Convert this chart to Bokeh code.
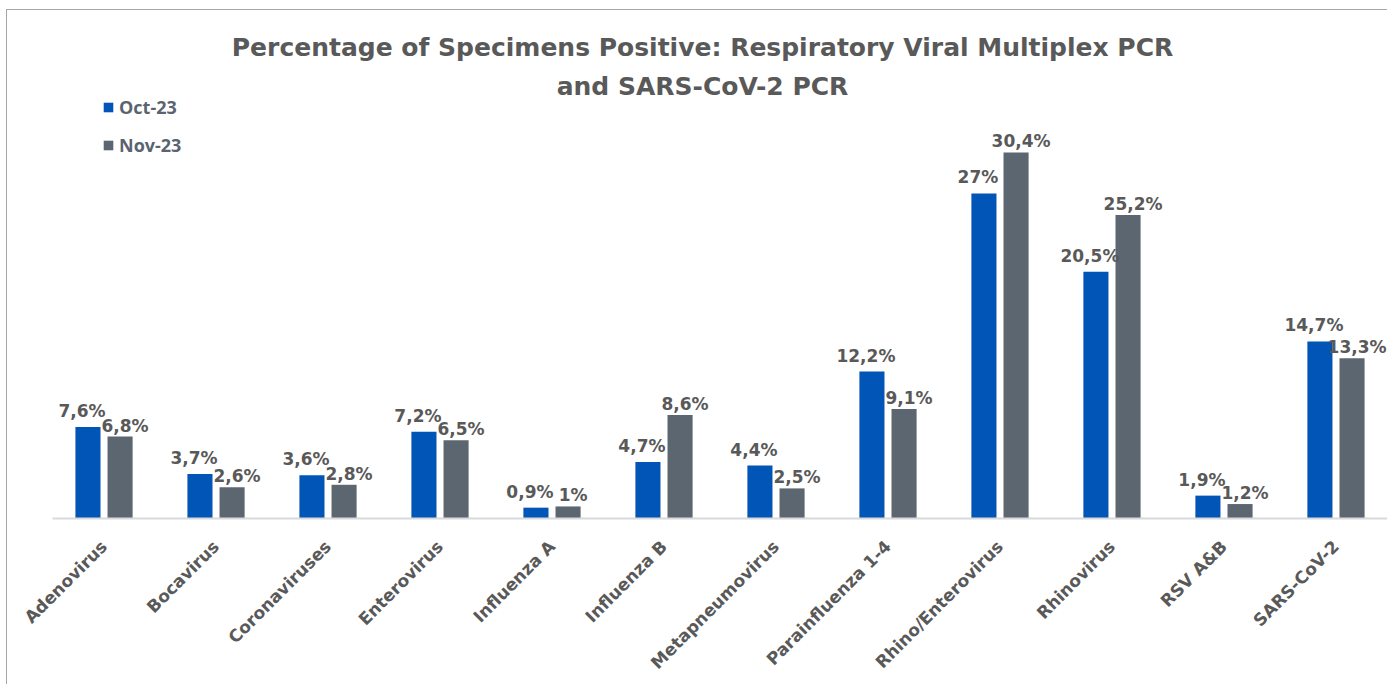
import math
from bokeh.plotting import figure
from bokeh.models import (ColumnDataSource, FactorRange, Label, Legend, LegendItem,
                          InlineStyleSheet)
from bokeh.transform import dodge
from bokeh.core.properties import value
from bokeh.embed import file_html
from bokeh.resources import INLINE

categories = ["Adenovirus", "Bocavirus", "Coronaviruses", "Enterovirus", "Influenza A",
              "Influenza B", "Metapneumovirus", "Parainfluenza 1-4", "Rhino/Enterovirus",
              "Rhinovirus", "RSV A&B", "SARS-CoV-2"]
oct_23 = [7.6, 3.7, 3.6, 7.2, 0.9, 4.7, 4.4, 12.2, 27.0, 20.5, 1.9, 14.7]
nov_23 = [6.8, 2.6, 2.8, 6.5, 1.0, 8.6, 2.5, 9.1, 30.4, 25.2, 1.2, 13.3]
series_names = ["Oct-23", "Nov-23"]
title_lines = ["Percentage of Specimens Positive: Respiratory Viral Multiplex PCR",
               "and SARS-CoV-2 PCR"]

BLUE = "#0055B7"
GRAY = "#5C6670"
TEXT = "#595959"


def fmt(v):
    if abs(v - round(v)) < 1e-9:
        return "%d%%" % round(v)
    return ("%.1f%%" % v).replace(".", ",")


src = ColumnDataSource(dict(
    cat=categories, oct=oct_23, nov=nov_23,
    oct_lbl=[fmt(v) for v in oct_23], nov_lbl=[fmt(v) for v in nov_23],
))

border_css = InlineStyleSheet(css="""
:host { position: relative; }
:host::after { content: ""; position: absolute; left: 6px; top: 9px; right: 0; bottom: 0;
  border-top: 1px solid #A6A6A6; border-left: 1px solid #A6A6A6; pointer-events: none; }
""")

p = figure(
    x_range=FactorRange(factors=categories, range_padding=-0.04, range_padding_units="absolute"),
    y_range=(0, 43.02),
    width=1387, height=684,
    min_border_left=52, min_border_right=0, min_border_top=0, min_border_bottom=166,
    output_backend="svg", toolbar_location=None,
    background_fill_color="white", border_fill_color="white",
    stylesheets=[border_css],
)
p.outline_line_color = None
p.xgrid.grid_line_color = None
p.ygrid.grid_line_color = None
p.yaxis.visible = False

off = 0.1434
bw = 0.224
r_oct = p.vbar(x=dodge("cat", -off, range=p.x_range), top="oct", width=bw, source=src,
               fill_color=BLUE, line_color=None)
r_nov = p.vbar(x=dodge("cat", off, range=p.x_range), top="nov", width=bw, source=src,
               fill_color=GRAY, line_color=None)

lab_font = value("DejaVu Sans")
p.text(x=dodge("cat", -off, range=p.x_range), y="oct", text="oct_lbl", source=src,
       x_offset=-6, y_offset=-16, text_align="center", text_baseline="alphabetic",
       text_font=lab_font, text_font_style="bold", text_font_size="17px", text_color=TEXT)
p.text(x=dodge("cat", off, range=p.x_range), y="nov", text="nov_lbl", source=src,
       x_offset=5, y_offset=-11, text_align="center", text_baseline="alphabetic",
       text_font=lab_font, text_font_style="bold", text_font_size="17px", text_color=TEXT)

ax = p.xaxis[0]
ax.axis_line_color = "#D9D9D9"
ax.axis_line_width = 2
ax.major_tick_line_color = None
ax.minor_tick_line_color = None
ax.major_label_orientation = math.pi / 4
ax.major_label_text_font = "DejaVu Sans"
ax.major_label_text_font_style = "bold"
ax.major_label_text_font_size = "17px"
ax.major_label_text_color = TEXT
ax.major_label_standoff = 19

# title (two lines)
for i, line in enumerate(title_lines):
    p.add_layout(Label(x=650, y=471 - 39 * i, x_units="screen", y_units="screen",
                       text=line, text_align="center", text_baseline="alphabetic",
                       text_font="DejaVu Sans", text_font_style="bold",
                       text_font_size="25px", text_color=TEXT))

legend = Legend(items=[LegendItem(label=series_names[0], renderers=[r_oct]),
                       LegendItem(label=series_names[1], renderers=[r_nov])],
                location=(50, 361), orientation="vertical",
                glyph_width=12, glyph_height=12, label_height=24, label_standoff=5,
                spacing=14, padding=0, margin=0,
                border_line_color=None, background_fill_alpha=0,
                label_text_font="Open Sans", label_text_font_style="bold",
                label_text_font_size="18px", label_text_color="#5A6470")
p.add_layout(legend, "center")

open("out.html", "w").write(file_html(p, INLINE))
